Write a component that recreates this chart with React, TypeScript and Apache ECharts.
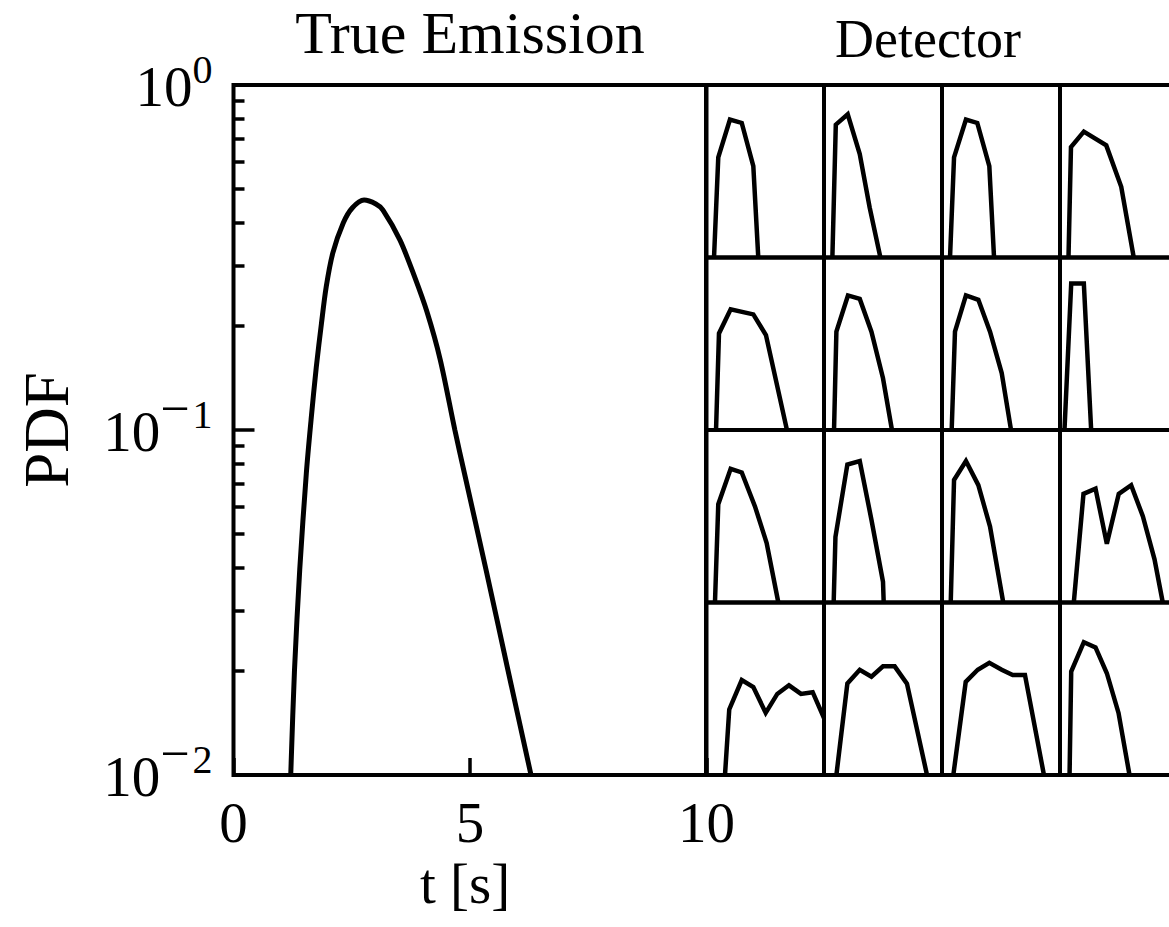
import React, { useEffect, useRef } from "react";
import * as echarts from "echarts";

const FONT = "Liberation Serif";

// True emission PDF (log y)
const trueT = [1.21, 1.29, 1.40, 1.54, 1.64, 1.75, 1.86, 1.96, 2.10, 2.32, 2.51, 2.76, 3.01, 3.16, 3.52, 3.82, 4.09, 4.37, 4.68, 4.89, 5.34, 5.80, 6.29];
const truePdf = [0.0100, 0.0202, 0.0393, 0.0750, 0.107, 0.152, 0.204, 0.260, 0.326, 0.398, 0.440, 0.464, 0.452, 0.434, 0.355, 0.280, 0.220, 0.160, 0.100, 0.0741, 0.0393, 0.0202, 0.0100];

const xTickValues = [0, 5, 10];
const yMinorTicks = [0.02, 0.03, 0.04, 0.05, 0.06, 0.07, 0.08, 0.09, 0.2, 0.3, 0.4, 0.5, 0.6, 0.7, 0.8, 0.9];

// Detector panels (4 x 4), time 0..10, relative height 0..1
const detectorT: number[][] = [
  [0.68, 1.04, 2.03, 3.03, 4.01, 4.43],
  [0.71, 1.0, 2.01, 3.03, 3.87, 4.78],
  [0.68, 1.02, 2.03, 2.99, 4.01, 4.41],
  [0.72, 0.93, 2.02, 3.92, 5.19, 6.25],
  [0.85, 1.1, 2.09, 4.01, 5.08, 6.86],
  [0.85, 1.05, 2.03, 3.03, 4.02, 5.0, 5.76],
  [0.82, 1.1, 2.03, 3.08, 4.07, 5.06, 5.85],
  [0.38, 0.95, 2.02, 2.64],
  [0.76, 1.04, 2.09, 3.03, 4.15, 5.14, 6.13],
  [0.82, 0.97, 1.98, 3.03, 4.02, 5.0, 5.06],
  [0.74, 1.02, 2.03, 3.08, 4.07, 5.19],
  [1.17, 1.99, 3.01, 3.97, 4.98, 6.03, 7.02, 8.01, 8.71],
  [1.61, 1.97, 3.03, 4.01, 5.06, 6.04, 7.03, 8.05, 9.04, 10.0],
  [1.05, 1.98, 3.03, 4.02, 5.0, 5.99, 7.03, 8.73],
  [0.96, 2.01, 3.03, 4.01, 5.06, 5.99, 7.03, 8.64],
  [0.81, 0.95, 2.02, 3.01, 3.97, 4.96, 5.89],
];
const detectorY: number[][] = [
  [0, 0.58, 0.80, 0.78, 0.53, 0],
  [0, 0.77, 0.83, 0.60, 0.29, 0],
  [0, 0.58, 0.80, 0.78, 0.53, 0],
  [0, 0.64, 0.73, 0.65, 0.41, 0],
  [0, 0.56, 0.70, 0.67, 0.55, 0],
  [0, 0.57, 0.78, 0.76, 0.57, 0.30, 0],
  [0, 0.57, 0.78, 0.755, 0.57, 0.33, 0],
  [0, 0.85, 0.85, 0],
  [0, 0.57, 0.775, 0.754, 0.557, 0.345, 0],
  [0, 0.38, 0.80, 0.82, 0.48, 0.12, 0],
  [0, 0.71, 0.82, 0.68, 0.44, 0],
  [0, 0.63, 0.66, 0.34, 0.63, 0.68, 0.50, 0.25, 0],
  [0, 0.38, 0.55, 0.51, 0.36, 0.47, 0.52, 0.47, 0.48, 0.33],
  [0, 0.53, 0.61, 0.57, 0.63, 0.63, 0.53, 0],
  [0, 0.54, 0.61, 0.65, 0.61, 0.58, 0.58, 0],
  [0, 0.60, 0.77, 0.74, 0.59, 0.36, 0],
];

export default function App() {
  const ref = useRef<HTMLDivElement>(null);
  useEffect(() => {
    if (!ref.current) return;
    const chart = echarts.init(ref.current, null, { renderer: "svg" });

    const mainGrid = { left: 233.5, top: 85, width: 473, height: 690 };
    const panelW = 118;
    const panelH = 172.5;

    const grids: any[] = [
      { ...mainGrid, show: true, borderColor: "#000", borderWidth: 4, backgroundColor: "transparent", outerBoundsMode: "none", containLabel: false },
    ];
    const xAxes: any[] = [
      {
        type: "value", gridIndex: 0, min: 0, max: 10, interval: 5,
        axisLine: { show: false },
        axisTick: { show: true, inside: true, length: 17, lineStyle: { color: "#000", width: 3.5 } },
        axisLabel: { color: "#000", fontFamily: FONT, fontSize: 57, margin: 19, customValues: xTickValues },
        splitLine: { show: false },
      },
    ];
    const yAxes: any[] = [
      {
        type: "log", logBase: 10, gridIndex: 0, min: 0.01, max: 1, position: "left",
        axisLine: { show: false },
        axisTick: { show: true, inside: true, length: 21, lineStyle: { color: "#000", width: 3.5 } },
        axisLabel: {
          color: "#000", margin: 21,
          formatter: (v: number) => {
            const e = Math.round(Math.log10(v));
            return e === 0 ? "{a|10}{b|0}" : `{a|10}{m|\u2212}{b|${-e}}`;
          },
          rich: {
            a: { fontFamily: FONT, fontSize: 57, lineHeight: 60, verticalAlign: "bottom", color: "#000" },
            m: { fontFamily: FONT, fontSize: 52, lineHeight: 38, padding: [0, 3, 26, 0], verticalAlign: "bottom", color: "#000" },
            b: { fontFamily: FONT, fontSize: 40, lineHeight: 38, padding: [0, 0, 26, 0], verticalAlign: "bottom", color: "#000" },
          },
        },
        splitLine: { show: false },
      },
      {
        type: "log", logBase: 10, gridIndex: 0, min: 0.01, max: 1, position: "left", offset: 0,
        axisLine: { show: false },
        axisTick: { show: true, inside: true, length: 11, customValues: yMinorTicks, lineStyle: { color: "#000", width: 3.5 } },
        axisLabel: { show: false },
        splitLine: { show: false },
      },
    ];
    const series: any[] = [
      {
        type: "line", xAxisIndex: 0, yAxisIndex: 0,
        data: trueT.map((t, i) => [t, truePdf[i]]),
        showSymbol: false, smooth: 0.3,
        lineStyle: { color: "#000", width: 5 },
        z: 5,
      },
    ];

    for (let r = 0; r < 4; r++) {
      for (let c = 0; c < 4; c++) {
        const k = r * 4 + c;
        grids.push({
          left: 706 + c * panelW, top: 85 + r * panelH, width: panelW, height: panelH,
          show: true, borderColor: "#000", borderWidth: 4, backgroundColor: "transparent",
          outerBoundsMode: "none", containLabel: false,
        });
        xAxes.push({ type: "value", gridIndex: k + 1, min: 0, max: 10, show: false });
        yAxes.push({ type: "value", gridIndex: k + 1, min: 0, max: 1, show: false });
        series.push({
          type: "line", xAxisIndex: k + 1, yAxisIndex: k + 2,
          data: detectorT[k].map((t, i) => [t, detectorY[k][i]]),
          showSymbol: false, clip: true,
          lineStyle: { color: "#000", width: 4.5, join: "miter" },
        });
      }
    }

    const textStyle = (t: string, size: number) => ({ text: t, fill: "#000", font: `${size}px "${FONT}"`, align: "center", verticalAlign: "middle" });

    chart.setOption({
      animation: false,
      backgroundColor: "#fff",
      grid: grids,
      xAxis: xAxes,
      yAxis: yAxes,
      series,
      graphic: [
        { type: "text", x: 470, y: 33, style: textStyle("True Emission", 60) },
        { type: "text", x: 928, y: 39, style: textStyle("Detector", 54) },
        { type: "text", x: 47, y: 430, rotation: Math.PI / 2, style: textStyle("PDF", 63) },
        { type: "text", x: 465, y: 883, style: textStyle("t [s]", 57) },
      ],
    });
    return () => chart.dispose();
  }, []);
  return <div ref={ref} style={{ position: "absolute", left: 0, top: 0, width: 1169, height: 927 }} />;
}
